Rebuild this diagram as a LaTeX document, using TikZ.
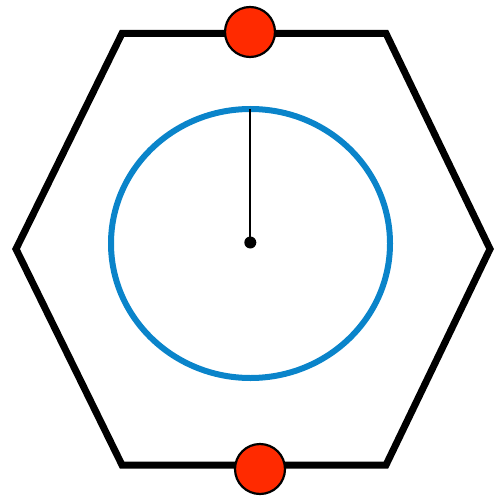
\documentclass[tikz,border=0pt]{standalone}
\usetikzlibrary{shapes.geometric}
\begin{document}
\begin{tikzpicture}[x=1pt,y=-1pt,
  hexline/.style={line width=7pt,line join=miter,draw=black},
  reddot/.style={circle,fill=myred,draw=black,line width=2.2pt,minimum size=50pt,inner sep=0pt},
  blackdot/.style={circle,fill=black,minimum size=12pt,inner sep=0pt},
  bluering/.style={ellipse,draw=myblue,line width=6pt,minimum width=279pt,minimum height=269pt,inner sep=0pt}]
\definecolor{myred}{HTML}{FF2A00}
\definecolor{myblue}{HTML}{0A84CA}
\useasboundingbox (0,0) rectangle (495,497);
\coordinate (tl) at (122,33.5);
\coordinate (tr) at (386,33.5);
\coordinate (r) at (490,249);
\coordinate (br) at (386,465);
\coordinate (bl) at (122,465);
\coordinate (l) at (16,249);
\draw[hexline] (tl) -- (tr) -- (r) -- (br) -- (bl) -- (l) -- cycle;
\node[bluering] (ring) at (250.5,243.5) {};
\node[blackdot] (c) at (250.3,242.5) {};
\coordinate (top) at (250.3,109);
\draw[line width=2pt] (c.center) -- (top);
\node[reddot] (r1) at (250,32) {};
\node[reddot] (r2) at (260,469) {};
\end{tikzpicture}
\end{document}
